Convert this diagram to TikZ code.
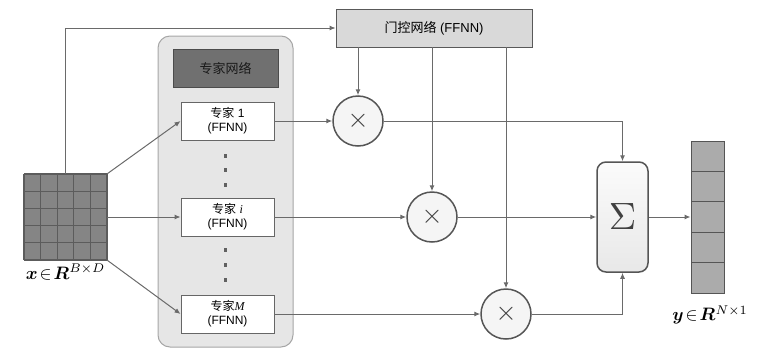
\documentclass[tikz,border=0pt]{standalone}
\usepackage{fontspec}
\usepackage{bm}
\usepackage{graphicx}
\setmainfont{Liberation Sans}
\newfontfamily\cjk{Noto Sans CJK SC}
\usetikzlibrary{arrows.meta}
\definecolor{ln}{HTML}{6A6A6A}
\definecolor{bd}{HTML}{555555}
\definecolor{gatefill}{HTML}{D9D9D9}
\definecolor{panelfill}{HTML}{E6E6E6}
\definecolor{headfill}{HTML}{707070}
\definecolor{gridfill}{HTML}{858585}
\definecolor{gridline}{HTML}{5C5C5C}
\definecolor{outfill}{HTML}{ABABAB}
\tikzset{
  conn/.style={draw=ln, line width=1pt},
  arr/.style={conn, -{Latex[length=6pt,width=5pt]}},
  expertbox/.style={draw=gray!80!black, fill=white, line width=0.9pt, minimum width=93pt, minimum height=38pt, inner sep=0pt, align=center, font=\fontsize{12}{14}\selectfont},
  multnode/.style={circle, draw=bd, line width=1.5pt, fill=gray!8, minimum size=50pt, inner sep=0pt, text=black!75},
  dotmark/.style={fill=gray!75!black}
}
\begin{document}
\begin{tikzpicture}[x=1pt,y=-1pt]
\useasboundingbox (0,0) rectangle (767,362);
% expert panel
\node[draw=gray!70, fill=panelfill, rounded corners=12pt, line width=1pt, minimum width=135pt, minimum height=311pt, inner sep=0pt] (P) at (225.5,191.5) {};
\node[fill=headfill, draw=gray!60!black, minimum width=105pt, minimum height=38pt, inner sep=0pt, text=black!90, font=\cjk\fontsize{13}{15}\selectfont] (H) at (225.5,68) {专家网络};
\node[expertbox] (E1) at (227.5,121) {{\cjk 专家} 1\\(FFNN)};
\node[expertbox] (Ei) at (227.5,217) {{\cjk 专家} {\fontspec{Liberation Serif}\itshape i}\\(FFNN)};
\node[expertbox] (EM) at (227.5,314) {{\cjk 专家}{\fontspec{Liberation Serif}\itshape M}\\(FFNN)};
\foreach \yy in {156,170,185,250,265,280} \fill[dotmark] (225.5,\yy) ++(-1.8,-1.8) rectangle ++(3.6,3.6);
% gating
\node[draw=gray!70!black, fill=gatefill, line width=0.8pt, minimum width=196pt, minimum height=38pt, inner sep=0pt, font=\fontsize{13}{15}\selectfont] (G) at (434,28) {{\cjk 门控网络} (FFNN)};
% input grid
\node[fill=gridfill, minimum width=83pt, minimum height=86pt, inner sep=0pt] (X) at (65.5,217) {};
\foreach \i in {0,...,5} {
  \draw[gridline, line width=1.2pt] (24+\i*16.6,174) -- (24+\i*16.6,260);
  \draw[gridline, line width=1.2pt] (24,174+\i*17.2) -- (107,174+\i*17.2);
}
\node (xl) at (65.5,272) {\scalebox{1.8}{$\bm{x}\!\in\!\bm{R}^{B\times D}$}};
% multipliers
\node[multnode] (M1) at (358,121) {\scalebox{2.7}{$\times$}};
\node[multnode] (M2) at (432,217) {\scalebox{2.7}{$\times$}};
\node[multnode] (M3) at (506,314) {\scalebox{2.7}{$\times$}};
% sum
\node[draw=bd, line width=1.5pt, rounded corners=9pt, top color=gray!3, bottom color=gray!18, minimum width=51pt, minimum height=110pt, inner sep=0pt, text=black!75] (S) at (622.5,217) {\scalebox{3.8}{$\Sigma$}};
% output
\node[fill=outfill, draw=bd, line width=1pt, minimum width=33pt, minimum height=152pt, inner sep=0pt] (Y) at (707.5,217) {};
\foreach \i in {1,...,4} \draw[bd, line width=1pt] (691,141+\i*30.4) -- (724,141+\i*30.4);
\node (yl) at (710,315) {\scalebox{1.8}{$\bm{y}\!\in\!\bm{R}^{N\times 1}$}};
% connectors
\draw[arr] (X.north) |- (G.west);
\draw[arr] (X.north east) -- (E1.west);
\draw[arr] (X.east) -- (Ei.west);
\draw[arr] (X.south east) -- (EM.west);
\draw[arr] (E1.east) -- (M1.west);
\draw[arr] (Ei.east) -- (M2.west);
\draw[arr] (EM.east) -- (M3.west);
\draw[arr] (G.south -| M1.north) -- (M1.north);
\draw[arr] (G.south -| M2.north) -- (M2.north);
\draw[arr] (G.south -| M3.north) -- (M3.north);
\draw[arr] (M1.east) -| (S.north);
\draw[arr] (M2.east) -- (S.west);
\draw[arr] (M3.east) -| (S.south);
\draw[arr] (S.east) -- (Y.west);
\end{tikzpicture}
\end{document}
